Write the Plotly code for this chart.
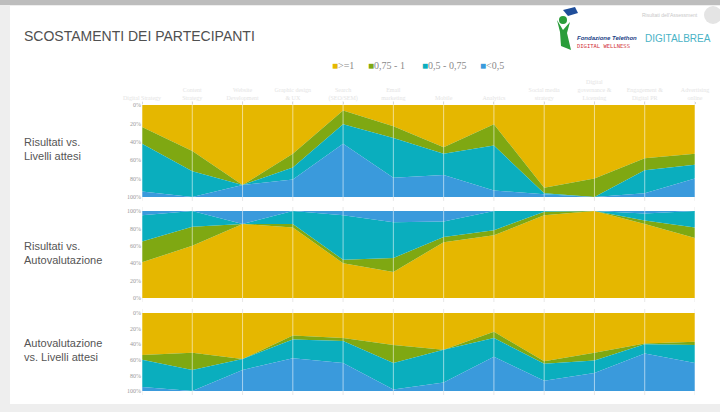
import plotly.graph_objects as go

categories = ["Digital Strategy", "Content<br>Strategy", "Website<br>Development", "Graphic design<br>& UX",
              "Search<br>(SEO/SEM)", "Email<br>marketing", "Mobile", "Analytics",
              "Social media<br>strategy", "Digital<br>governance &<br>Licensing", "Engagement &<br>Digital PR",
              "Advertising<br>online"]

series_names = [">=1", "0,75 - 1", "0,5 - 0,75", "<0,5"]
colors = ["#E5B700", "#7FA812", "#0AAEBE", "#3A9ADC"]

# Panel 1: Risultati vs. Livelli attesi (percent per band)
p1_ge1 = [24, 50, 87, 53, 6, 23, 46, 21, 90, 80, 58, 53]
p1_075 = [18, 22, 0, 15, 15, 13, 7, 23, 6, 20, 13, 12]
p1_05 = [52, 28, 0, 13, 21, 43, 23, 49, 1, 0, 25, 15]
p1_lt05 = [6, 0, 13, 19, 58, 21, 24, 7, 3, 0, 4, 20]

# Panel 2: Risultati vs. Autovalutazione
p2_ge1 = [41, 60, 85, 81, 40, 30, 64, 72, 95, 100, 85, 69]
p2_075 = [24, 22, 0, 4, 4, 16, 6, 6, 4, 0, 4, 12]
p2_05 = [30, 18, 0, 15, 51, 41, 18, 22, 1, 0, 8, 19]
p2_lt05 = [5, 0, 15, 0, 5, 13, 12, 0, 0, 0, 3, 0]

# Panel 3: Autovalutazione vs. Livelli attesi
p3_ge1 = [54, 51, 59, 29, 32, 41, 47, 24, 62, 51, 39, 37]
p3_075 = [6, 22, 0, 5, 4, 23, 0, 8, 3, 10, 1, 4]
p3_05 = [35, 27, 14, 24, 28, 34, 42, 24, 22, 16, 12, 23]
p3_lt05 = [5, 0, 27, 42, 36, 2, 11, 44, 13, 23, 48, 36]

row_labels = ["Risultati vs.<br>Livelli attesi", "Risultati vs.<br>Autovalutazione",
              "Autovalutazione<br>vs. Livelli attesi"]
tick_vals = [0, 20, 40, 60, 80, 100]
tick_text = ["0%", "20%", "40%", "60%", "80%", "100%"]

panels = [
    [p1_ge1, p1_075, p1_05, p1_lt05],
    [p2_ge1, p2_075, p2_05, p2_lt05],
    [p3_ge1, p3_075, p3_05, p3_lt05],
]
reversed_axis = [True, False, True]

W, H = 720, 412
def py(px):
    return 1 - px / H

x_dom = [142 / W, 695 / W]
y_doms = [[py(197), py(105)], [py(298), py(211)], [py(391), py(313)]]
xidx = list(range(len(categories)))

fig = go.Figure()

for i, bands in enumerate(panels):
    xa = "x" if i == 0 else f"x{i+1}"
    ya = "y" if i == 0 else f"y{i+1}"
    for name, vals, col in zip(series_names, bands, colors):
        fig.add_trace(go.Scatter(
            x=xidx, y=vals, name=name, mode="lines",
            line=dict(width=0, color=col), fillcolor=col,
            stackgroup=f"g{i}", xaxis=xa, yaxis=ya, showlegend=False,
            hoverinfo="skip"))

layout = dict(width=W, height=H, autosize=False, margin=dict(l=0, r=0, t=0, b=0, pad=0),
              paper_bgcolor="#eeeeee", plot_bgcolor="rgba(0,0,0,0)",
              showlegend=False, font=dict(family="Liberation Sans", color="#555"))

for i in range(3):
    xk = "xaxis" if i == 0 else f"xaxis{i+1}"
    yk = "yaxis" if i == 0 else f"yaxis{i+1}"
    ya = "y" if i == 0 else f"y{i+1}"
    xa = "x" if i == 0 else f"x{i+1}"
    xax = dict(domain=x_dom, range=[0, len(categories) - 1], showgrid=False, zeroline=False,
               showline=False, anchor=ya, fixedrange=True, automargin=False)
    if i == 0:
        xax.update(side="top", tickmode="array", tickvals=xidx, ticktext=categories,
                   tickfont=dict(size=6, color="#e4e4e4", family="Liberation Serif"),
                   ticks="outside", ticklen=2, tickcolor="#d8d8d8")
    else:
        xax.update(showticklabels=False)
    layout[xk] = xax
    yrange = [100, 0] if reversed_axis[i] else [0, 100]
    layout[yk] = dict(domain=y_doms[i], range=yrange, tickmode="array", tickvals=tick_vals,
                      ticktext=tick_text, showgrid=False, zeroline=False, showline=False, anchor=xa,
                      tickfont=dict(size=6, color="#9a9a9a", family="Liberation Serif"),
                      ticks="", fixedrange=True, automargin=False)

fig.update_layout(**layout)

shapes = []
# slide white area
shapes.append(dict(type="rect", xref="paper", yref="paper", x0=10 / W, x1=1, y0=py(404), y1=py(6),
                   fillcolor="white", line=dict(width=0), layer="below"))
# top bar
shapes.append(dict(type="rect", xref="paper", yref="paper", x0=0, x1=1, y0=py(5), y1=1,
                   fillcolor="#bdbdbd", line=dict(width=0), layer="below"))
# vertical gridlines
for i in range(3):
    xa = "x" if i == 0 else f"x{i+1}"
    for k in xidx:
        shapes.append(dict(type="line", xref=xa, yref="paper", x0=k, x1=k,
                           y0=y_doms[i][0] - 4 / H, y1=y_doms[i][1] + 4 / H,
                           line=dict(color="#e8e8e8", width=1), layer="below"))
        shapes.append(dict(type="line", xref=xa, yref="paper", x0=k, x1=k,
                           y0=y_doms[i][0], y1=y_doms[i][1],
                           line=dict(color="rgba(255,255,255,0.55)", width=1), layer="above"))

# logo: green figure (decorative)
shapes.append(dict(type="circle", xref="paper", yref="paper", x0=559 / W, x1=567 / W,
                   y0=py(24), y1=py(16), fillcolor="#2a9d3a", line=dict(width=0)))
shapes.append(dict(type="path", xref="paper", yref="paper",
                   path=f"M {557/W},{py(20)} L {563/W},{py(30)} L {570/W},{py(22)} L {567/W},{py(33)} "
                        f"L {571/W},{py(50)} L {561/W},{py(46)} L {560/W},{py(32)} Z",
                   fillcolor="#2a9d3a", line=dict(width=0)))
shapes.append(dict(type="path", xref="paper", yref="paper",
                   path=f"M {563/W},{py(10)} L {575/W},{py(7)} L {578/W},{py(13)} L {568/W},{py(16)} Z",
                   fillcolor="#1f4e9a", line=dict(width=0)))
shapes.append(dict(type="circle", xref="paper", yref="paper", x0=704 / W, x1=722 / W,
                   y0=py(24), y1=py(6), fillcolor="#e4e4e4", line=dict(width=0)))
fig.update_layout(shapes=shapes)

ann = []
ann.append(dict(text="SCOSTAMENTI DEI PARTECIPANTI", x=22 / W, y=py(36), xref="paper", yref="paper",
                xanchor="left", yanchor="middle", showarrow=False,
                font=dict(family="Liberation Sans", size=14, color="#505050")))
# legend
leg_x = [330, 366, 420, 478]
for name, col, lx in zip(series_names, colors, leg_x):
    ann.append(dict(text=f'<span style="color:{col}">■</span>{name}', x=lx / W, y=py(65),
                    xref="paper", yref="paper", xanchor="left", yanchor="middle", showarrow=False,
                    font=dict(family="Liberation Serif", size=10, color="#8a8a8a")))
# row labels
for lbl, (y0, y1) in zip(row_labels, y_doms):
    ann.append(dict(text=lbl, x=22 / W, y=(y0 + y1) / 2 + 2 / H, xref="paper", yref="paper",
                    xanchor="left", yanchor="middle", align="left", showarrow=False,
                    font=dict(family="Liberation Sans", size=11, color="#555555")))
# logos text
ann.append(dict(text="<b><i>Fondazione Telethon</i></b>", x=575 / W, y=py(38), xref="paper", yref="paper",
                xanchor="left", yanchor="middle", showarrow=False,
                font=dict(family="Liberation Sans", size=6, color="#1d3f86")))
ann.append(dict(text="DIGITAL WELLNESS", x=575 / W, y=py(46), xref="paper", yref="paper",
                xanchor="left", yanchor="middle", showarrow=False,
                font=dict(family="DejaVu Sans Mono", size=5.5, color="#d2333a")))
ann.append(dict(text="DIGITALBREA", x=643 / W, y=py(39), xref="paper", yref="paper",
                xanchor="left", yanchor="middle", showarrow=False,
                font=dict(family="Liberation Sans", size=10, color="#4ab3c6")))
ann.append(dict(text="Risultati dell'Assessment", x=640 / W, y=py(15), xref="paper", yref="paper",
                xanchor="left", yanchor="middle", showarrow=False,
                font=dict(family="Liberation Sans", size=5, color="#c8c8c8")))
fig.update_layout(annotations=ann)

fig.write_html("out.html", config={"responsive": False})
